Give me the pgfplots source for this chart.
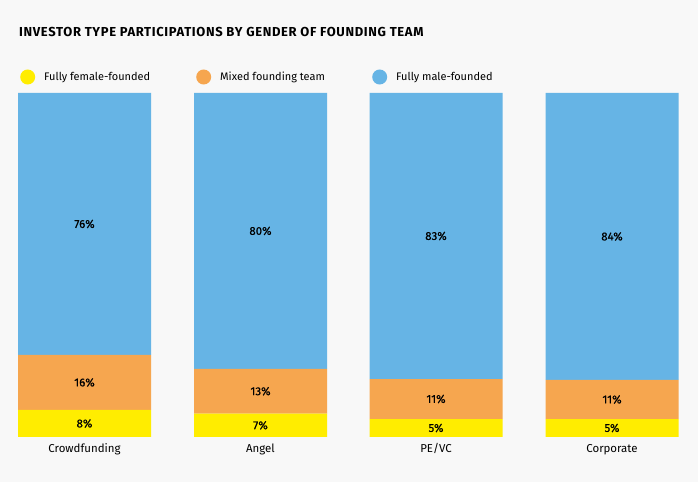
\documentclass[border=0pt]{standalone}
\usepackage{fontspec}
\setmainfont{Fira Sans}
\newfontfamily\titlefont[LetterSpace=5]{Fira Sans}
\newfontfamily\labfont[FakeBold=0.6]{Fira Sans}
\usepackage{pgfplots}
\usepackage{pgfplotstable}
\pgfplotsset{compat=1.18}
\definecolor{bg}{HTML}{F8F8F8}
\definecolor{cyel}{HTML}{FFED00}
\definecolor{cora}{HTML}{F6A64F}
\definecolor{cblu}{HTML}{66B4E5}
\pgfplotsset{circ legend/.style={legend image code/.code={\fill[##1] (7.5bp,0bp) circle[radius=7.5bp];}}}
\pgfplotstableread{
x y lab
84.5 7.85 8
260.5 6.8 7
436 5.23 5
612 5.23 5
}\female
\pgfplotstableread{
x y lab
84.5 15.99 16
260.5 13.0 13
436 11.63 11
612 11.34 11
}\mixed
\pgfplotstableread{
x y lab
84.5 76.16 76
260.5 80.2 80
436 83.14 83
612 83.43 84
}\male
\begin{document}
\begin{tikzpicture}
\fill[bg] (0bp,0bp) rectangle (698bp,482bp);
\node[anchor=base west, inner sep=0pt, font=\titlefont\bfseries\fontsize{13.05}{15}\selectfont] at (19bp,445.7bp) {INVESTOR TYPE PARTICIPATIONS BY GENDER OF FOUNDING TEAM};
\begin{axis}[
  at={(0bp,45bp)}, anchor=south west,
  width=698bp, height=344bp, scale only axis,
  xmin=0, xmax=698, ymin=0, ymax=100,
  axis line style={draw=none},
  tick style={draw=none},
  ytick=\empty,
  xtick={84.5,260.5,436,612},
  xticklabels={Crowdfunding,Angel,PE/VC,Corporate},
  xticklabel style={anchor=base, yshift=-15.7bp, font=\fontsize{11.5}{14}\selectfont},
  ybar stacked, bar width=133,
  point meta=explicit symbolic,
  nodes near coords={\pgfplotspointmeta\%},
  every node near coord/.append style={anchor=center, inner sep=0pt, font=\labfont\fontsize{11.5}{13}\selectfont},
  legend columns=3,
  legend style={draw=none, fill=none, at={(axis cs:20,104.65)}, anchor=west, inner sep=0pt,
    font=\fontsize{11}{13}\selectfont,
    nodes={inner sep=0pt},
    /tikz/every odd column/.append style={column sep=9bp}},
]
\addplot[fill=cyel, draw=none, circ legend] table[x=x, y=y, meta=lab] {\female};
\addlegendentry{\makebox[152bp][l]{Fully female-founded}}
\addplot[fill=cora, draw=none, circ legend] table[x=x, y=y, meta=lab] {\mixed};
\addlegendentry{\makebox[152bp][l]{Mixed founding team}}
\addplot[fill=cblu, draw=none, circ legend] table[x=x, y=y, meta=lab] {\male};
\addlegendentry{\makebox[152bp][l]{Fully male-founded}}
\end{axis}
\end{tikzpicture}
\end{document}
